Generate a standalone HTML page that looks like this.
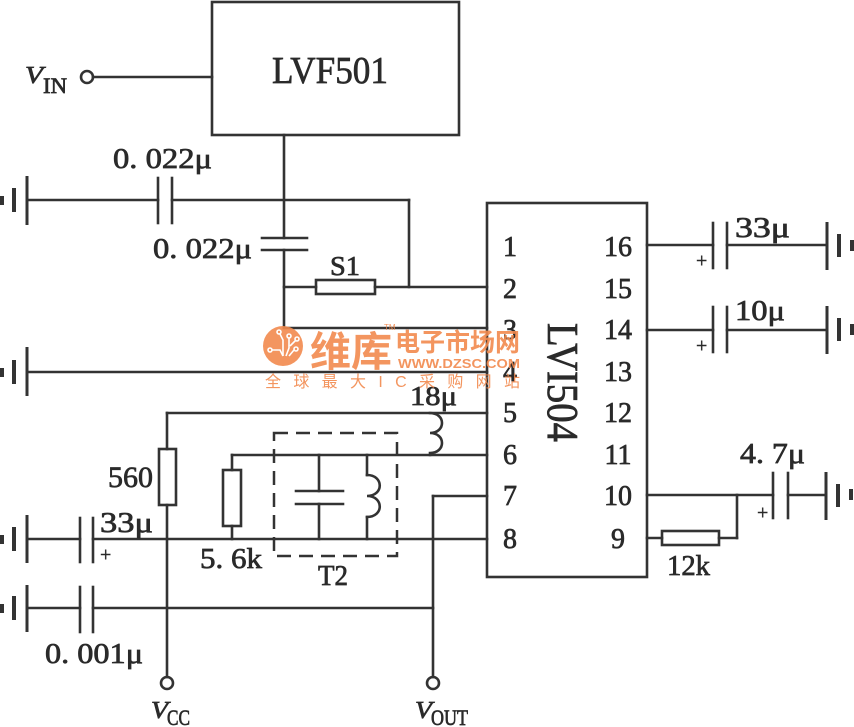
<!DOCTYPE html>
<html><head><meta charset="utf-8"><style>
html,body{margin:0;padding:0;background:#fff;}
svg{display:block;}
.t{font-family:"Liberation Serif",serif;fill:#2a2a2a;stroke:#2a2a2a;stroke-width:0.7;}
</style></head><body>
<svg width="854" height="727" viewBox="0 0 854 727" xmlns="http://www.w3.org/2000/svg">
<rect width="854" height="727" fill="#fff"/>
<g stroke="#333" stroke-width="2.6" fill="none" stroke-linecap="square">
<rect x="212" y="2" width="247" height="133"/>
<line x1="93" y1="77" x2="212" y2="77"/>
<circle cx="87" cy="77" r="6"/>
<line x1="284" y1="135" x2="284" y2="238"/>
<line x1="284" y1="250" x2="284" y2="328"/>
<line x1="284" y1="328" x2="487" y2="328"/>
<line x1="262" y1="238" x2="307" y2="238"/>
<line x1="262" y1="250" x2="307" y2="250"/>
<line x1="27" y1="200" x2="158" y2="200"/>
<line x1="172" y1="200" x2="409" y2="200"/>
<line x1="409" y1="200" x2="409" y2="287"/>
<line x1="158" y1="178" x2="158" y2="223"/>
<line x1="172" y1="178" x2="172" y2="223"/>
<line x1="284" y1="287" x2="316" y2="287"/>
<rect x="316" y="280" width="59" height="14"/>
<line x1="375" y1="287" x2="487" y2="287"/>
<line x1="27" y1="372" x2="487" y2="372"/>
<line x1="167" y1="413" x2="487" y2="413"/>
<line x1="167" y1="413" x2="167" y2="449"/>
<rect x="159" y="449" width="17" height="56"/>
<line x1="167" y1="505" x2="167" y2="677"/>
<circle cx="167" cy="683" r="6"/>
<path d="M430 413 C446 413 446 433 430 433 C446 433 446 453 430 453 L430 455"/>
<line x1="232" y1="455" x2="487" y2="455"/>
<line x1="232" y1="455" x2="232" y2="470"/>
<rect x="223" y="470" width="18" height="56"/>
<line x1="232" y1="526" x2="232" y2="539"/>
<line x1="319" y1="455" x2="319" y2="491"/>
<line x1="296" y1="491" x2="343" y2="491"/>
<line x1="296" y1="504" x2="343" y2="504"/>
<line x1="319" y1="504" x2="319" y2="539"/>
<line x1="367" y1="455" x2="367" y2="475"/>
<path d="M367 475 C384 475 384 496 367 496 C384 496 384 517 367 517"/>
<line x1="367" y1="517" x2="367" y2="539"/>
<line x1="433" y1="496" x2="487" y2="496"/>
<line x1="433" y1="496" x2="433" y2="677"/>
<circle cx="433" cy="683" r="6"/>
<line x1="27" y1="539" x2="80" y2="539"/>
<line x1="93" y1="539" x2="487" y2="539"/>
<line x1="80" y1="518" x2="80" y2="562"/>
<line x1="93" y1="518" x2="93" y2="562"/>
<line x1="27" y1="608" x2="80" y2="608"/>
<line x1="93" y1="608" x2="433" y2="608"/>
<line x1="80" y1="587" x2="80" y2="632"/>
<line x1="93" y1="587" x2="93" y2="632"/>
<rect x="487" y="203" width="160" height="374"/>
<line x1="647" y1="245" x2="713" y2="245"/>
<line x1="713" y1="223" x2="713" y2="268"/>
<line x1="727" y1="223" x2="727" y2="268"/>
<line x1="727" y1="245" x2="827" y2="245"/>
<line x1="647" y1="330" x2="713" y2="330"/>
<line x1="713" y1="307" x2="713" y2="352"/>
<line x1="727" y1="307" x2="727" y2="352"/>
<line x1="727" y1="330" x2="827" y2="330"/>
<line x1="647" y1="495" x2="773" y2="495"/>
<line x1="773" y1="473" x2="773" y2="518"/>
<line x1="788" y1="473" x2="788" y2="518"/>
<line x1="788" y1="495" x2="826" y2="495"/>
<line x1="737" y1="495" x2="737" y2="538"/>
<line x1="719" y1="538" x2="737" y2="538"/>
<rect x="662" y="531" width="57" height="14"/>
<line x1="647" y1="538" x2="662" y2="538"/>
</g>
<rect x="274" y="433" width="123" height="123" fill="none" stroke="#333" stroke-width="2.5" stroke-dasharray="14,8"/>
<g fill="#333">
<rect x="25.5" y="176" width="3" height="49"/><rect x="12" y="188" width="4" height="24"/><rect x="0" y="196" width="4" height="9"/>
<rect x="25.5" y="347" width="3" height="49"/><rect x="12" y="360" width="4" height="24"/><rect x="0" y="368" width="4" height="9"/>
<rect x="25.5" y="515" width="3" height="48"/><rect x="12" y="527" width="4" height="24"/><rect x="0" y="535" width="4" height="9"/>
<rect x="25.5" y="585" width="3" height="47"/><rect x="12" y="596" width="4" height="24"/><rect x="0" y="604" width="4" height="9"/>
<rect x="825.5" y="222" width="3" height="48"/><rect x="837" y="234" width="4" height="23"/><rect x="850" y="240" width="4" height="11"/>
<rect x="825.5" y="306" width="3" height="48"/><rect x="837" y="318" width="4" height="23"/><rect x="850" y="324" width="4" height="11"/>
<rect x="824.5" y="472" width="3" height="48"/><rect x="836" y="484" width="4" height="23"/><rect x="849" y="489" width="4" height="11"/>
</g>
<g class="t">
<text x="272" y="83" font-size="38" textLength="116" lengthAdjust="spacingAndGlyphs">LVF501</text>
<text x="25" y="83" font-size="24" font-style="italic" textLength="18" lengthAdjust="spacingAndGlyphs">V</text>
<text x="43" y="93" font-size="22" textLength="24" lengthAdjust="spacingAndGlyphs">IN</text>
<text x="113" y="168" font-size="28" textLength="99" lengthAdjust="spacingAndGlyphs">0. 022μ</text>
<text x="153" y="258" font-size="28" textLength="99" lengthAdjust="spacingAndGlyphs">0. 022μ</text>
<text x="330" y="275" font-size="27" textLength="30" lengthAdjust="spacingAndGlyphs">S1</text>
<text x="410" y="405" font-size="27" textLength="47" lengthAdjust="spacingAndGlyphs">18μ</text>
<text x="108" y="487" font-size="30" textLength="45" lengthAdjust="spacingAndGlyphs">560</text>
<text x="100" y="532" font-size="28" textLength="53" lengthAdjust="spacingAndGlyphs">33μ</text>
<text x="100" y="561" font-size="20" stroke-width="0.4">+</text>
<text x="200" y="568" font-size="28" textLength="62" lengthAdjust="spacingAndGlyphs">5. 6k</text>
<text x="318" y="585" font-size="28" textLength="30" lengthAdjust="spacingAndGlyphs">T2</text>
<text x="45" y="663" font-size="28" textLength="98" lengthAdjust="spacingAndGlyphs">0. 001μ</text>
<text x="151" y="718" font-size="24" font-style="italic" textLength="17" lengthAdjust="spacingAndGlyphs">V</text>
<text x="167" y="725" font-size="22" textLength="23" lengthAdjust="spacingAndGlyphs">CC</text>
<text x="415" y="718" font-size="24" font-style="italic" textLength="17" lengthAdjust="spacingAndGlyphs">V</text>
<text x="431" y="725" font-size="22" textLength="37" lengthAdjust="spacingAndGlyphs">OUT</text>
<text x="735" y="237" font-size="28" textLength="55" lengthAdjust="spacingAndGlyphs">33μ</text>
<text x="735" y="320" font-size="28" textLength="50" lengthAdjust="spacingAndGlyphs">10μ</text>
<text x="740" y="463" font-size="28" textLength="65" lengthAdjust="spacingAndGlyphs">4. 7μ</text>
<text x="667" y="575" font-size="28" textLength="43" lengthAdjust="spacingAndGlyphs">12k</text>
<text x="696" y="267" font-size="20" stroke-width="0.4">+</text>
<text x="696" y="352" font-size="20" stroke-width="0.4">+</text>
<text x="757" y="519" font-size="20" stroke-width="0.4">+</text>
<g font-size="28" text-anchor="middle">
<text x="510" y="256">1</text><text x="510" y="298">2</text><text x="510" y="339">3</text><text x="510" y="381">4</text>
<text x="510" y="422">5</text><text x="510" y="464">6</text><text x="510" y="505">7</text><text x="510" y="548">8</text>
<text x="618" y="256">16</text><text x="618" y="298">15</text><text x="618" y="339">14</text><text x="618" y="381">13</text>
<text x="618" y="422">12</text><text x="618" y="464">11</text><text x="618" y="505">10</text><text x="618" y="548">9</text>
</g>
<text transform="translate(548,323) rotate(90)" font-size="44" textLength="119" lengthAdjust="spacingAndGlyphs">LVI504</text>
</g>
<g opacity="0.9">
<circle cx="283" cy="346" r="20" fill="#F28A4E"/>
<g stroke="#fff" stroke-width="1.6" fill="none">
<path d="M272 350 L280 350 L283 356"/><circle cx="270" cy="350" r="2"/>
<path d="M283 356 L283 340 L280 334"/><circle cx="279" cy="332" r="2"/>
<path d="M286 356 L289 348 L289 338"/><circle cx="289" cy="336" r="2"/>
<path d="M289 356 L294 350"/><circle cx="296" cy="349" r="2"/>
<path d="M290 346 L296 340"/><circle cx="297" cy="339" r="2"/>
</g>
<text x="310" y="366" font-family="'Noto Sans CJK SC','WenQuanYi Zen Hei',sans-serif" font-weight="bold" font-size="41" fill="#F28A4E" textLength="82" lengthAdjust="spacingAndGlyphs">维库</text>
<text x="395" y="351" font-family="'Noto Sans CJK SC','WenQuanYi Zen Hei',sans-serif" font-weight="bold" font-size="25" fill="#F28A4E" textLength="125" lengthAdjust="spacingAndGlyphs">电子市场网</text>
<text x="384" y="330" font-family="'Liberation Sans',sans-serif" font-size="8" fill="#F28A4E">TM</text>
<text x="398" y="368" font-family="'Liberation Sans',sans-serif" font-weight="bold" font-size="13" fill="#F28A4E" textLength="122" lengthAdjust="spacingAndGlyphs">WWW.DZSC.COM</text>
<text x="265" y="387" font-family="'Liberation Sans','Noto Sans CJK SC',sans-serif" font-size="16" fill="#F28A4E" textLength="255" lengthAdjust="spacing">全球最大IC采购网站</text>
</g>
</svg>
</body></html>
